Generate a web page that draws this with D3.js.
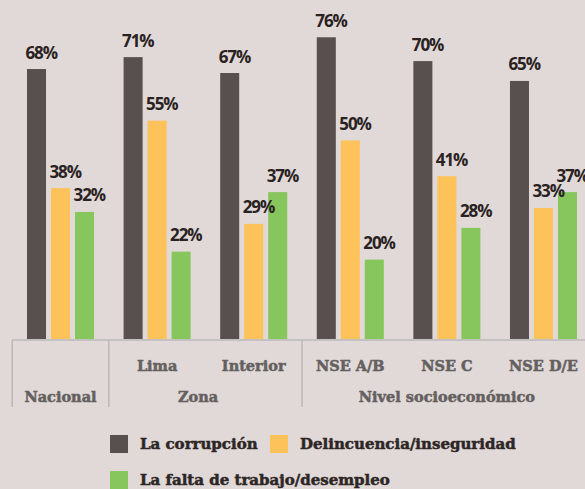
<!DOCTYPE html>
<html>
<head>
<meta charset="utf-8">
<script src="https://cdn.jsdelivr.net/npm/d3@7"></script>
<style>
  html, body { margin: 0; padding: 0; background: #e0d9d7; }
  svg { display: block; }
</style>
</head>
<body>
<svg width="585" height="489"></svg>
<script>
// data
const categories = ['Nacional', 'Lima', 'Interior', 'NSE A/B', 'NSE C', 'NSE D/E'];
const corrupcion = [68, 71, 67, 76, 70, 65];
const delincuencia = [38, 55, 29, 50, 41, 33];
const desempleo = [32, 22, 37, 20, 28, 37];
const seriesNames = ['La corrupción', 'Delincuencia/inseguridad', 'La falta de trabajo/desempleo'];
const groupNames = ['Nacional', 'Zona', 'Nivel socioeconómico'];
const groupOf = [0, 1, 1, 2, 2, 2];
const showCategory = [false, true, true, true, true, true];

const colors = ['#584f4f', '#fdc25a', '#87c65c'];
const values = [corrupcion, delincuencia, desempleo];

const svg = d3.select('svg');
const baseline = 339;
const width = 585;

// scales
const x0 = d3.scaleBand()
  .domain(categories)
  .range([27, 577])
  .paddingInner(0.306)
  .paddingOuter(0);
const x1 = d3.scaleBand()
  .domain(d3.range(3))
  .range([0, x0.bandwidth()])
  .paddingInner(0.208);
const y = d3.scaleLinear()
  .domain([0, 100])
  .range([baseline, baseline - 397]);

const gap = x0.step() - x0.bandwidth();

// bars
const groups = svg.append('g').selectAll('g')
  .data(categories)
  .join('g')
  .attr('transform', d => 'translate(' + x0(d) + ',0)');

groups.selectAll('rect')
  .data((d, i) => values.map((s, k) => ({ k: k, v: s[i] })))
  .join('rect')
  .attr('x', d => x1(d.k))
  .attr('y', d => y(d.v))
  .attr('width', x1.bandwidth())
  .attr('height', d => baseline - y(d.v))
  .attr('fill', d => colors[d.k]);

groups.selectAll('text')
  .data((d, i) => values.map((s, k) => ({ k: k, v: s[i] })))
  .join('text')
  .attr('x', d => x1(d.k) - 1.5)
  .attr('y', d => y(d.v) - 10.5)
  .attr('font-family', 'Open Sans, sans-serif')
  .attr('font-weight', 700)
  .attr('font-size', 17)
  .attr('letter-spacing', -1.1)
  .attr('fill', '#2a2222')
  .text(d => d.v + '%');

// axis line and separators
const lineColor = '#bdb8b8';
svg.append('line')
  .attr('x1', x0(categories[0]) - gap / 2)
  .attr('x2', width)
  .attr('y1', baseline + 1)
  .attr('y2', baseline + 1)
  .attr('stroke', lineColor)
  .attr('stroke-width', 1.5);

const sepX = categories
  .map((c, i) => (i === 0 || groupOf[i] !== groupOf[i - 1]) ? x0(c) - gap / 2 : null)
  .filter(v => v !== null);
svg.selectAll('line.sep')
  .data(sepX)
  .join('line')
  .attr('class', 'sep')
  .attr('x1', d => d).attr('x2', d => d)
  .attr('y1', baseline + 1).attr('y2', 407)
  .attr('stroke', lineColor)
  .attr('stroke-width', 1.5);

const labelFont = 'DejaVu Serif, serif';
const grey = '#646060';

// category labels
svg.selectAll('text.cat')
  .data(categories.filter((c, i) => showCategory[i]))
  .join('text')
  .attr('class', 'cat')
  .attr('x', d => x0(d) + x0.bandwidth() / 2)
  .attr('y', 371)
  .attr('text-anchor', 'middle')
  .attr('font-family', labelFont)
  .attr('font-weight', 700)
  .attr('font-size', 14.5)
  .attr('fill', grey)
  .attr('stroke', grey)
  .attr('stroke-width', 0.5)
  .text(d => d);

// group labels, centred under their categories
svg.selectAll('text.grp')
  .data(groupNames)
  .join('text')
  .attr('class', 'grp')
  .attr('x', (d, g) => {
    const cats = categories.filter((c, i) => groupOf[i] === g);
    const left = x0(cats[0]) - (g === 2 ? 0 : gap / 2);
    const right = x0(cats[cats.length - 1]) + x0.bandwidth() + (g === 0 ? gap / 2 : 0);
    return (left + right) / 2;
  })
  .attr('y', 402)
  .attr('text-anchor', 'middle')
  .attr('font-family', labelFont)
  .attr('font-weight', 700)
  .attr('font-size', 14.5)
  .attr('fill', grey)
  .attr('stroke', grey)
  .attr('stroke-width', 0.5)
  .text(d => d);

// legend
const legendPos = [[110, 435], [270, 435], [110, 471]];
const legend = svg.append('g').selectAll('g')
  .data(seriesNames)
  .join('g')
  .attr('transform', (d, i) => 'translate(' + legendPos[i][0] + ',' + legendPos[i][1] + ')');
legend.append('rect')
  .attr('width', 18)
  .attr('height', 18)
  .attr('fill', (d, i) => colors[i]);
legend.append('text')
  .attr('x', 30)
  .attr('y', 14)
  .attr('font-family', labelFont)
  .attr('font-weight', 700)
  .attr('font-size', 15)
  .attr('fill', '#2d2626')
  .attr('stroke', '#2d2626')
  .attr('stroke-width', 0.5)
  .text(d => d);
</script>
</body>
</html>
